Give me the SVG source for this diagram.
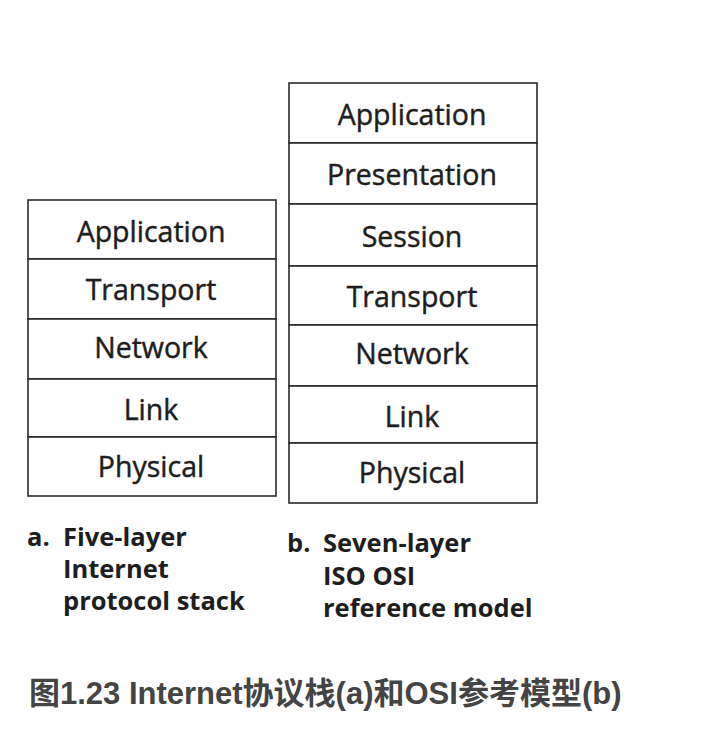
<svg xmlns="http://www.w3.org/2000/svg" width="716" height="742" viewBox="0 0 716 742">
<style>
.box{fill:#fff;stroke:#2a2a2a;stroke-width:1.6}
.lay{font-family:"Open Sans","Liberation Sans",sans-serif;font-size:28.5px;fill:#1e1e1e;stroke:#1e1e1e;stroke-width:0.45;text-anchor:middle}
.lab{font-family:"Open Sans","Liberation Sans",sans-serif;font-size:25.5px;font-weight:bold;fill:#1e1e1e}
.cap{font-family:"Liberation Sans","Noto Sans CJK SC",sans-serif;font-size:31px;font-weight:bold;fill:#444}
</style>
<rect width="716" height="742" fill="#fff"/>
<g id="stack-a">
<g id="a-application"><rect class="box" x="28" y="200" width="248" height="59"/><text class="lay" x="151" y="242">Application</text></g>
<g id="a-transport"><rect class="box" x="28" y="259" width="248" height="60"/><text class="lay" x="151" y="300">Transport</text></g>
<g id="a-network"><rect class="box" x="28" y="319" width="248" height="60"/><text class="lay" x="151" y="358">Network</text></g>
<g id="a-link"><rect class="box" x="28" y="379" width="248" height="58"/><text class="lay" x="151" y="420">Link</text></g>
<g id="a-physical"><rect class="box" x="28" y="437" width="248" height="59"/><text class="lay" x="151" y="477">Physical</text></g>
</g>
<g id="stack-b">
<g id="b-application"><rect class="box" x="289" y="83" width="248" height="60"/><text class="lay" x="412" y="125">Application</text></g>
<g id="b-presentation"><rect class="box" x="289" y="143" width="248" height="61"/><text class="lay" x="412" y="185">Presentation</text></g>
<g id="b-session"><rect class="box" x="289" y="204" width="248" height="62"/><text class="lay" x="412" y="247">Session</text></g>
<g id="b-transport"><rect class="box" x="289" y="266" width="248" height="59"/><text class="lay" x="412" y="307">Transport</text></g>
<g id="b-network"><rect class="box" x="289" y="325" width="248" height="61"/><text class="lay" x="412" y="364">Network</text></g>
<g id="b-link"><rect class="box" x="289" y="386" width="248" height="57"/><text class="lay" x="412" y="427">Link</text></g>
<g id="b-physical"><rect class="box" x="289" y="443" width="248" height="60"/><text class="lay" x="412" y="483">Physical</text></g>
</g>
<g id="connectors"></g>
<g id="label-a">
<text class="lab" x="27" y="546">a.</text>
<text class="lab" x="63" y="546">Five-layer</text>
<text class="lab" x="63" y="578">Internet</text>
<text class="lab" x="63" y="610">protocol stack</text>
</g>
<g id="label-b">
<text class="lab" x="287" y="552">b.</text>
<text class="lab" x="323" y="552">Seven-layer</text>
<text class="lab" x="323" y="585">ISO OSI</text>
<text class="lab" x="323" y="617">reference model</text>
</g>
<g id="caption">
<text class="cap" x="29" y="704">图1.23 Internet协议栈(a)和OSI参考模型(b)</text>
</g>
</svg>
